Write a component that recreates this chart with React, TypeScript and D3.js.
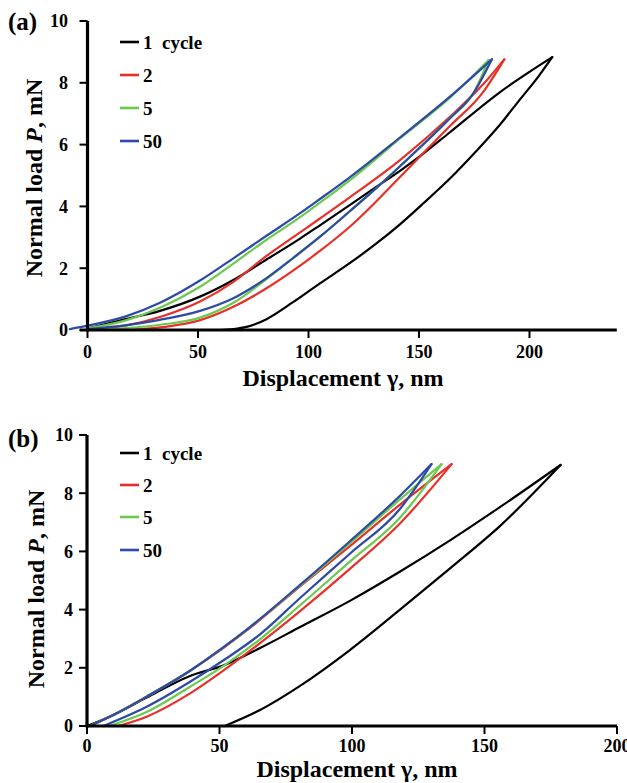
import React from "react";
import * as d3 from "d3";

type Pt = [number, number];

// ---------- Panel (a) ----------
const a1Load: Pt[] = [[0,0.05],[17.7,0.36],[32.8,0.62],[50.9,1.08],[66,1.62],[81,2.28],[96,2.95],[105,3.38],[118.8,4.05],[130,4.6],[141.4,5.15],[150,5.6],[164,6.4],[186.7,7.7],[210.3,8.83]];
const a1Unload: Pt[] = [[60,0],[66,0.03],[72,0.1],[81,0.35],[93,0.9],[105,1.5],[118.8,2.17],[130,2.76],[141.4,3.42],[152,4.1],[164,4.9],[175,5.72],[186.7,6.65],[195,7.4],[204,8.2],[210.3,8.83]];
const a2Load: Pt[] = [[3,0.02],[17.7,0.15],[32.8,0.42],[50.9,0.92],[66,1.56],[81,2.4],[96,3.15],[105,3.6],[118.8,4.3],[141.4,5.5],[164,6.9],[179,7.95],[188.6,8.76]];
const a2Unload: Pt[] = [[19,0],[35,0.1],[51,0.32],[66,0.75],[81,1.35],[93,1.92],[105,2.55],[118.8,3.35],[141.4,4.95],[150,5.58],[164,6.6],[179,7.7],[188.6,8.76]];
const a5Load: Pt[] = [[0,0.05],[17.7,0.32],[32.8,0.72],[50.9,1.4],[66,2.15],[81,2.92],[96.2,3.65],[105.2,4.12],[118.8,4.85],[141.4,6.2],[164,7.52],[181.5,8.74]];
const a5Unload: Pt[] = [[3,0],[17.7,0.06],[32.8,0.17],[50.9,0.4],[66,0.88],[81,1.65],[93,2.32],[105.2,3.02],[118.8,3.85],[130,4.55],[141.4,5.3],[164,6.85],[174.6,7.66],[181.5,8.74]];
const a50Load: Pt[] = [[-8,0.03],[0,0.14],[17.7,0.45],[32.8,0.88],[50.9,1.6],[66,2.32],[81,3.05],[96.2,3.78],[105.2,4.24],[118.8,4.95],[141.4,6.23],[164,7.55],[183,8.76]];
const a50Unload: Pt[] = [[0,0.03],[17.7,0.16],[32.8,0.33],[50.9,0.62],[66,1.03],[81,1.68],[93,2.33],[105.2,3.02],[118.8,3.85],[130,4.55],[141.4,5.3],[164,6.85],[174.6,7.66],[183,8.76]];

// ---------- Panel (b) ----------
const b1Load: Pt[] = [[0,0],[10,0.38],[22.5,0.98],[38.9,1.72],[51.4,2.08],[65.3,2.68],[80.4,3.4],[99.2,4.3],[118,5.3],[137,6.38],[155.8,7.52],[178.7,8.97]];
const b1Unload: Pt[] = [[52,0],[65.3,0.55],[80.4,1.38],[99.2,2.61],[118,3.99],[137,5.42],[155.8,6.87],[178.7,8.97]];
const b2Load: Pt[] = [[1,0],[9.9,0.38],[22.5,1.01],[38.9,1.9],[51.4,2.68],[61.5,3.37],[80.4,4.8],[99.2,6.18],[118,7.6],[137.6,9.0]];
const b2Unload: Pt[] = [[11.8,0],[22.5,0.32],[38.9,1.12],[51.4,1.9],[65.3,2.85],[80.4,3.95],[99.2,5.4],[118,6.95],[137.6,9.0]];
const b5Load: Pt[] = [[1,0],[9.9,0.38],[22.5,1.01],[38.9,1.9],[51.4,2.7],[61.5,3.4],[80.4,4.82],[99.2,6.28],[118,7.78],[133.8,9.0]];
const b5Unload: Pt[] = [[8.5,0],[22.5,0.48],[38.9,1.35],[51.4,2.06],[65.3,2.98],[80.4,4.15],[99.2,5.65],[118,7.15],[133.8,9.0]];
const b50Load: Pt[] = [[1,0],[9.9,0.38],[22.5,1.01],[38.9,1.9],[51.4,2.7],[61.5,3.4],[80.4,4.85],[99.2,6.35],[118,7.9],[130,9.0]];
const b50Unload: Pt[] = [[6.2,0],[22.5,0.66],[38.9,1.52],[51.4,2.25],[65.3,3.15],[80.4,4.4],[99.2,5.92],[118,7.45],[130,9.0]];

const legendLabels = ["1  cycle", "2", "5", "50"];
const colors = ["#000000", "#e8302a", "#6cc94e", "#2c4aa6"];
const xTicksA = [0, 50, 100, 150, 200];
const xTicksB = [0, 50, 100, 150, 200];
const yTicks = [0, 2, 4, 6, 8, 10];

const seriesA = [[a1Load, a1Unload], [a2Load, a2Unload], [a5Load, a5Unload], [a50Load, a50Unload]];
const seriesB = [[b1Load, b1Unload], [b2Load, b2Unload], [b5Load, b5Unload], [b50Load, b50Unload]];

const FONT = "'Liberation Serif', 'Times New Roman', serif";

type PanelProps = {
  x: d3.ScaleLinear<number, number>;
  y: d3.ScaleLinear<number, number>;
  xAxisStart: number;
  xAxisEnd: number;
  xTicks: number[];
  series: Pt[][][];
  label: string;
  labelPos: [number, number];
  yTitlePos: [number, number];
  xTitlePos: [number, number];
  xTickLabelY: number;
  yTickLabelX: number;
  legendY: number[];
};

function Panel(p: PanelProps) {
  const line = d3
    .line<Pt>()
    .x((d) => p.x(d[0]))
    .y((d) => p.y(d[1]))
    .curve(d3.curveMonotoneX);
  const x0 = p.x(0);
  const y0 = p.y(0);
  return (
    <g>
      {p.series.map((s, i) => (
        <g key={i} stroke={colors[i]} strokeWidth={2.2} fill="none" strokeLinejoin="round" strokeLinecap="round">
          <path d={line(s[0]) || ""} />
          <path d={line(s[1]) || ""} />
        </g>
      ))}
      <line x1={p.x(p.xAxisStart)} x2={p.x(p.xAxisEnd)} y1={y0} y2={y0} stroke="#000" strokeWidth={3.2} />
      <line x1={x0} x2={x0} y1={y0 + 1.5} y2={p.y(10)} stroke="#000" strokeWidth={3.2} />
      {p.xTicks.map((t) => (
        <g key={"xt" + t}>
          <line x1={p.x(t)} x2={p.x(t)} y1={y0} y2={y0 + 8} stroke="#000" strokeWidth={2} />
          <text x={p.x(t)} y={p.xTickLabelY} textAnchor="middle" fontSize={18} fontWeight="bold" fontFamily={FONT}>
            {t}
          </text>
        </g>
      ))}
      {yTicks.map((t) => (
        <g key={"yt" + t}>
          <line x1={x0 - 8} x2={x0} y1={p.y(t)} y2={p.y(t)} stroke="#000" strokeWidth={2} />
          <text x={p.yTickLabelX} y={p.y(t)} dy="0.35em" textAnchor="end" fontSize={18} fontWeight="bold" fontFamily={FONT}>
            {t}
          </text>
        </g>
      ))}
      <text x={p.labelPos[0]} y={p.labelPos[1]} fontSize={25} fontWeight="bold" fontFamily={FONT}>
        {p.label}
      </text>
      <text
        transform={`translate(${p.yTitlePos[0]},${p.yTitlePos[1]}) rotate(-90)`}
        textAnchor="middle"
        fontSize={24}
        fontWeight="bold"
        fontFamily={FONT}
      >
        Normal load <tspan fontStyle="italic">P</tspan>, mN
      </text>
      <text x={p.xTitlePos[0]} y={p.xTitlePos[1]} textAnchor="middle" fontSize={24} fontWeight="bold" fontFamily={FONT}>
        Displacement γ, nm
      </text>
      {legendLabels.map((lab, i) => (
        <g key={"lg" + i}>
          <line x1={120} x2={139} y1={p.legendY[i]} y2={p.legendY[i]} stroke={colors[i]} strokeWidth={2.6} />
          <text
            x={143}
            y={p.legendY[i]}
            dy="0.35em"
            fontSize={19}
            fontWeight="bold"
            fontFamily={FONT}
            style={{ whiteSpace: "pre" }}
          >
            {lab}
          </text>
        </g>
      ))}
    </g>
  );
}

export default function App() {
  const xA = d3.scaleLinear().domain([0, 200]).range([87.5, 529.5]);
  const yA = d3.scaleLinear().domain([0, 10]).range([330, 21]);
  const xB = d3.scaleLinear().domain([0, 200]).range([87, 617]);
  const yB = d3.scaleLinear().domain([0, 10]).range([726, 435]);
  return (
    <svg
      width={627}
      height={783}
      style={{ position: "absolute", left: 0, top: 0, background: "#fff" }}
    >
      <rect width={627} height={783} fill="#fff" />
      <Panel
        x={xA}
        y={yA}
        xAxisStart={-3.5}
        xAxisEnd={239.5}
        xTicks={xTicksA}
        series={seriesA}
        label="(a)"
        labelPos={[8, 30]}
        yTitlePos={[42, 178]}
        xTitlePos={[343, 386]}
        xTickLabelY={358}
        yTickLabelX={68}
        legendY={[42, 75, 108, 141]}
      />
      <Panel
        x={xB}
        y={yB}
        xAxisStart={0}
        xAxisEnd={200}
        xTicks={xTicksB}
        series={seriesB}
        label="(b)"
        labelPos={[8, 447]}
        yTitlePos={[44, 589]}
        xTitlePos={[357, 777]}
        xTickLabelY={752}
        yTickLabelX={73}
        legendY={[453, 485, 517, 550]}
      />
    </svg>
  );
}
